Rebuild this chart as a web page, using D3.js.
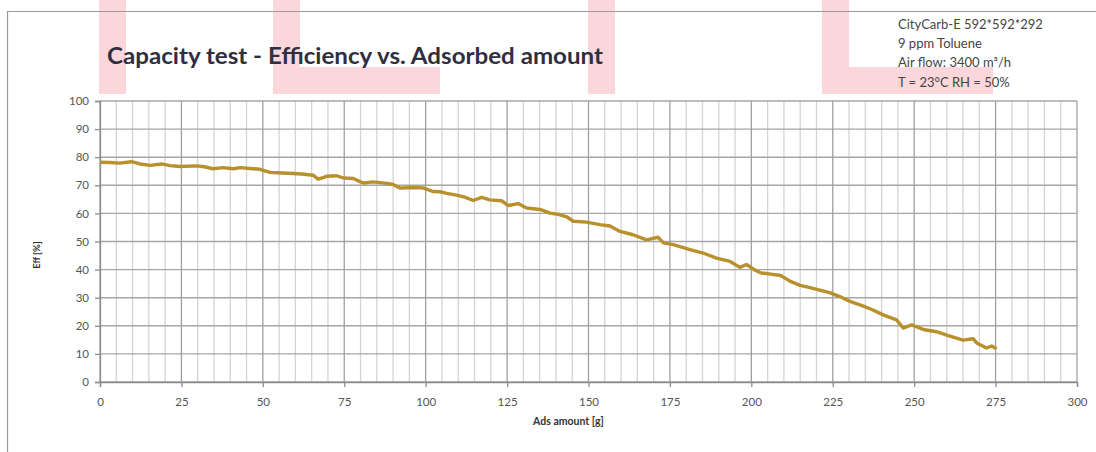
<!DOCTYPE html>
<html>
<head>
<meta charset="utf-8">
<script src="https://cdn.jsdelivr.net/npm/d3@7"></script>
<style>
  html, body { margin: 0; padding: 0; background: #fff; }
  svg { display: block; font-family: Lato, "Open Sans", sans-serif; }
</style>
</head>
<body>
<svg id="chart" width="1096" height="452"></svg>
<script>
// Adsorbed amount [g] and measured efficiency [%]
const adsAmount = [0, 3, 6, 9.7, 12.3, 15.4, 18.9, 21.5, 24.6, 29.7, 32, 34.7, 37.8, 40.9, 43, 47, 49.1,
  52.2, 56, 59.3, 62, 65.4, 67, 69.6, 72.7, 74.7, 77.8, 79.8, 81, 83.8, 88.1, 90, 92.1, 96.1, 99.2,
  102.2, 104.4, 106.5, 109.5, 112, 114.6, 117.2, 119.7, 123.3, 125.4, 128.4, 131, 135.1, 138.2, 141,
  143.3, 145.3, 149.4, 153.5, 156.6, 159.7, 163.7, 167.8, 171.4, 173, 176, 181.2, 185.2, 189.3, 193.5,
  196.5, 198.5, 201, 203, 206, 209, 212, 215, 218, 221, 224, 227, 230.3, 234.4, 237, 240.5, 244.6,
  246.6, 249.2, 252.8, 256.9, 260, 265, 268.1, 269.2, 272.2, 273.8, 275.3];
const efficiency = [78.2, 78.1, 77.9, 78.4, 77.6, 77.1, 77.6, 77.0, 76.7, 76.9, 76.6, 75.9, 76.3, 75.9, 76.3, 75.9, 75.7,
  74.6, 74.4, 74.2, 74.0, 73.6, 72.2, 73.2, 73.4, 72.6, 72.4, 71.3, 70.8, 71.2, 70.7, 70.3, 69.0, 69.2, 69.1,
  67.8, 67.7, 67.1, 66.5, 65.8, 64.6, 65.7, 64.8, 64.5, 62.8, 63.5, 61.9, 61.4, 60.1, 59.6,
  58.8, 57.2, 56.9, 56.0, 55.5, 53.6, 52.4, 50.6, 51.5, 49.5, 48.9, 47.1, 45.9, 44.1, 42.9,
  40.8, 41.8, 39.9, 38.8, 38.4, 37.9, 35.8, 34.4, 33.6, 32.7, 31.8, 30.5, 28.7, 27.0, 25.8, 23.9, 22.1,
  19.2, 20.3, 18.7, 17.9, 16.7, 14.9, 15.4, 13.9, 12.1, 12.8, 11.8];

const xTicks = [0, 25, 50, 75, 100, 125, 150, 175, 200, 225, 250, 275, 300];
const yTicks = [0, 10, 20, 30, 40, 50, 60, 70, 80, 90, 100];
const xMinorTicks = d3.range(0, 301, 5);

const titleText = "Capacity test - Efficiency vs. Adsorbed amount";
const noteLines = ["CityCarb-E 592*592*292", "9 ppm Toluene", "Air flow: 3400 m\u00B3/h", "T = 23\u00B0C RH = 50%"];
const xTitle = "Ads amount [g]";
const yTitle = "Eff [%]";

const svg = d3.select("#chart");
const W = 1096, H = 452;
const plot = { left: 100, right: 1077, top: 101, bottom: 382 };

const x = d3.scaleLinear().domain([0, 300]).range([plot.left, plot.right]);
const y = d3.scaleLinear().domain([0, 100]).range([plot.bottom, plot.top]);

// pale pink letter strokes in the page background
const pink = "#fbd6db";
const bg = svg.append("g");
const rects = [
  [99, 0, 27, 94],
  [273, 0, 27, 94], [273, 67, 167, 27],
  [588, 0, 27, 94],
  [822, 0, 27, 94], [822, 67, 171, 27]
];
rects.forEach(r => bg.append("rect").attr("x", r[0]).attr("y", r[1]).attr("width", r[2]).attr("height", r[3]).attr("fill", pink));

// chart frame (left and top edges)
svg.append("path").attr("d", `M7.5,${H} V11.5 H${W}`).attr("fill", "none").attr("stroke", "#9a9a9a").attr("stroke-width", 1.2);

// grid: minor verticals every 5, majors every 25, horizontals every 10
const grid = svg.append("g");
grid.selectAll("line.minor").data(xMinorTicks.filter(v => v % 25 !== 0)).join("line")
  .attr("x1", d => x(d)).attr("x2", d => x(d)).attr("y1", plot.top).attr("y2", plot.bottom)
  .attr("stroke", "#d4d4d4").attr("stroke-width", 1.3);
grid.selectAll("line.hz").data(yTicks).join("line")
  .attr("x1", plot.left).attr("x2", plot.right).attr("y1", d => y(d)).attr("y2", d => y(d))
  .attr("stroke", "#a6a6a6").attr("stroke-width", 1.4);
grid.selectAll("line.major").data(xTicks).join("line")
  .attr("x1", d => x(d)).attr("x2", d => x(d)).attr("y1", plot.top).attr("y2", plot.bottom)
  .attr("stroke", "#a0a0a0").attr("stroke-width", 1.3);

// axes
const yAxis = svg.append("g").attr("transform", `translate(${plot.left},0)`)
  .call(d3.axisLeft(y).tickValues(yTicks).tickSize(5).tickPadding(6));
const xAxis = svg.append("g").attr("transform", `translate(0,${plot.bottom})`)
  .call(d3.axisBottom(x).tickValues(xTicks).tickSize(5).tickPadding(11));
[xAxis, yAxis].forEach(a => {
  a.select(".domain").attr("stroke", "#8c8c8c").attr("stroke-width", 1.3);
  a.selectAll(".tick line").attr("stroke", "#8c8c8c").attr("stroke-width", 1.3);
  a.selectAll(".tick text").attr("fill", "#555").attr("font-size", 11.5)
    .attr("font-family", "Lato, sans-serif");
});

// data line
svg.append("path")
  .datum(adsAmount.map((d, i) => [d, efficiency[i]]))
  .attr("fill", "none")
  .attr("stroke", "#b8912c")
  .attr("stroke-width", 3.4)
  .attr("stroke-linejoin", "round")
  .attr("d", d3.line().x(d => x(d[0])).y(d => y(d[1])));

// titles
svg.append("text").attr("x", 107).attr("y", 64).attr("font-size", 22).attr("font-weight", "bold")
  .attr("textLength", 496).attr("lengthAdjust", "spacingAndGlyphs")
  .attr("fill", "#2f2f3f").text(titleText);

svg.append("text").attr("x", (plot.left + plot.right) / 2 - 20).attr("y", 425)
  .attr("text-anchor", "middle").attr("font-size", 10.5).attr("font-weight", "bold").attr("fill", "#333")
  .text(xTitle);

svg.append("text").attr("transform", "translate(40,255) rotate(-90)")
  .attr("text-anchor", "middle").attr("font-size", 9.5).attr("font-weight", "bold").attr("fill", "#333")
  .text(yTitle);

svg.append("g").selectAll("text").data(noteLines).join("text")
  .attr("x", 898).attr("y", (d, i) => 29 + i * 19.2)
  .attr("font-size", 13).attr("fill", "#454545").text(d => d);
</script>
</body>
</html>
